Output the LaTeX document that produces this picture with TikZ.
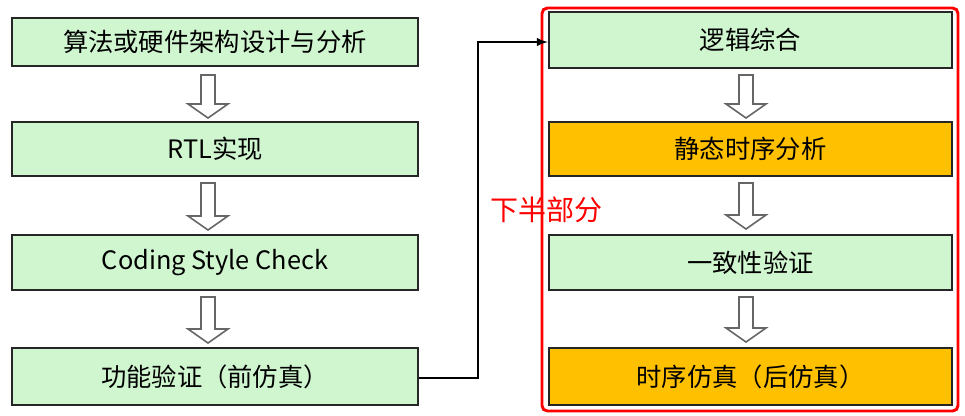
\documentclass[tikz,border=0pt]{standalone}
\usepackage{fontspec}
\setmainfont{Noto Sans CJK SC}
\begin{document}
\begin{tikzpicture}[x=0.75pt,y=-0.75pt,
  gbox/.style={draw=black!70!gray,line width=1.8pt,fill=green!15!white,fill={rgb,255:red,208;green,246;blue,208},inner sep=0pt,font=\fontsize{19pt}{21pt}\selectfont},
  obox/.style={gbox,fill={rgb,255:red,255;green,192;blue,0}},
  harrow/.style={draw=gray!80!black,line width=1.2pt,fill=white}]
\useasboundingbox (0,0) rectangle (965,415);
\def\bx#1#2#3#4#5#6{\node[#6,minimum width=#3*0.75pt-#1*0.75pt,minimum height=#4*0.75pt-#2*0.75pt] (#5) at ({(#1+#3)/2},{(#2+#4)/2}) {};}
\bx{12}{18}{418}{66}{l1}{gbox}
\bx{12}{122}{418}{176}{l2}{gbox}
\bx{12}{235}{418}{290}{l3}{gbox}
\bx{12}{348}{418}{405}{l4}{gbox}
\bx{549}{12}{952}{68}{r1}{gbox}
\bx{549}{122}{952}{176}{r2}{obox}
\bx{549}{235}{952}{290}{r3}{gbox}
\bx{549}{348}{952}{405}{r4}{obox}
\foreach \n/\t in {l1/算法或硬件架构设计与分析,l2/RTL实现,l3/Coding Style Check,l4/功能验证（前仿真）,r1/逻辑综合,r2/静态时序分析,r3/一致性验证,r4/时序仿真（后仿真）}
  \node[font=\fontsize{19pt}{21pt}\selectfont] at (\n) {\t};
\def\harr#1#2#3{\draw[harrow] (#1-7,#2) -- (#1+7,#2) -- (#1+7,#3-14) -- (#1+20,#3-14) -- (#1,#3) -- (#1-20,#3-14) -- (#1-7,#3-14) -- cycle;}
\harr{208}{75}{118}
\harr{208}{183}{230}
\harr{208}{297}{343}
\harr{746}{75}{118}
\harr{746}{183}{229}
\harr{746}{297}{342}
\draw[red,line width=2.2pt,rounded corners=4pt] (542,8) rectangle (958,411);
\coordinate (c1) at (478,378);
\coordinate (c2) at (478,42);
\draw[line width=1.8pt,-latex] (l4.east |- 0,378) -- (c1) -- (c2) -- (r1.west |- 0,42);
\node[red,font=\fontsize{21pt}{23pt}\selectfont,inner sep=0pt] (lab) at (546,210) {下半部分};
\end{tikzpicture}
\end{document}
